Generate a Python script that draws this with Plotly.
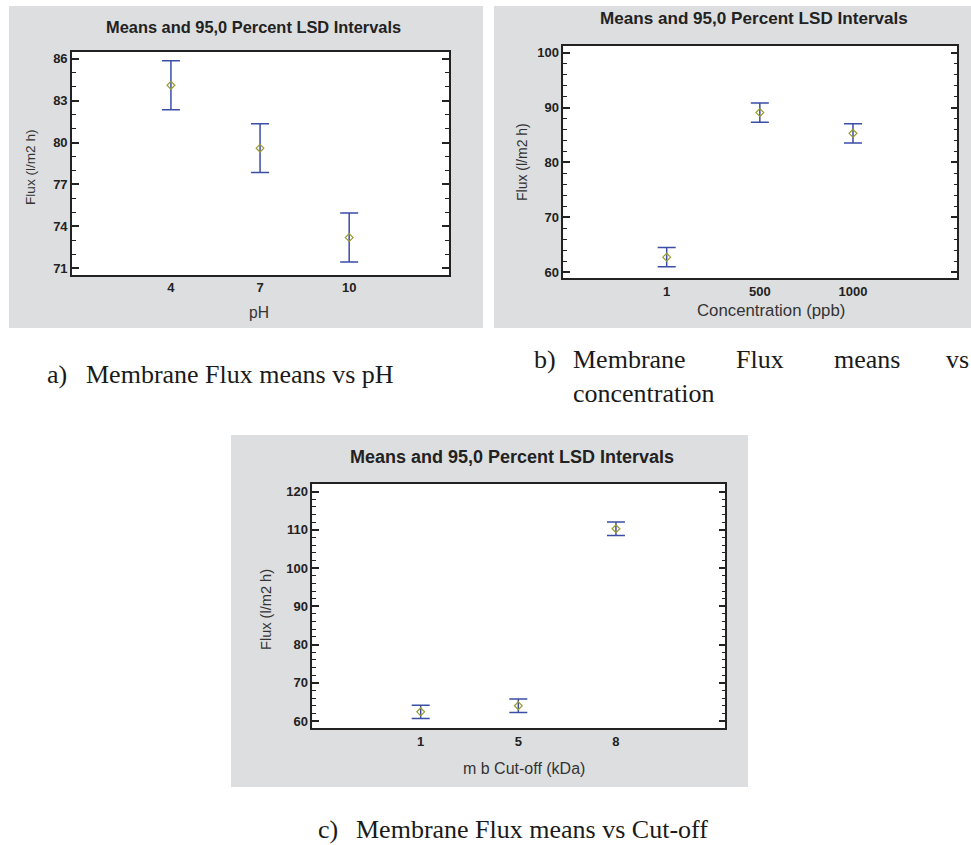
import plotly.graph_objects as go

# Group means and LSD half-widths (Flux, l/m2 h)
ph_levels = ["4", "7", "10"]
ph_means = [84.1, 79.6, 73.2]
ph_lsd = [1.75, 1.75, 1.75]

conc_levels = ["1", "500", "1000"]
conc_means = [62.7, 89.1, 85.3]
conc_lsd = [1.75, 1.75, 1.75]

cut_levels = ["1", "5", "8"]
cut_means = [62.4, 64.0, 110.3]
cut_lsd = [1.75, 1.75, 1.75]

W, H = 971, 845
SANS = "Liberation Sans, Arial, sans-serif"
SERIF = "Liberation Serif, Times New Roman, serif"
PANEL_BG = "#dddee0"
PLOT_BG = "#ffffff"
BAR_COLOR = "#3b4ea6"
PT_COLOR = "#9a9a2e"


def px(x):
    return x / W


def py(y):
    return 1 - y / H


panels = [
    dict(levels=ph_levels, means=ph_means, lsd=ph_lsd,
         box=(72, 449, 52, 275), bg=(9, 483, 6, 328),
         yr=[70.52, 86.48], tick0=71, dtick=3, mdtick=1,
         title_xy=(254, 27), tsize=16.4,
         ylab_xy=(30, 167), ysize=13.6,
         xlab="pH", xlab_xy=(259, 312), xsize=15.6),
    dict(levels=conc_levels, means=conc_means, lsd=conc_lsd,
         box=(563.3, 957.3, 45.7, 278.3), bg=(494, 971, 6, 328),
         yr=[58.85, 101.3], tick0=60, dtick=10, mdtick=2,
         title_xy=(753.5, 18.5), tsize=17.1,
         ylab_xy=(522, 162), ysize=14,
         xlab="Concentration (ppb)", xlab_xy=(770.5, 310), xsize=16.8),
    dict(levels=cut_levels, means=cut_means, lsd=cut_lsd,
         box=(312.3, 725.3, 484, 728.3), bg=(231, 748, 435, 787),
         yr=[58.1, 122.0], tick0=60, dtick=10, mdtick=2,
         title_xy=(511.5, 457), tsize=18,
         ylab_xy=(266, 610), ysize=14.6,
         xlab="m b Cut-off (kDa)", xlab_xy=(524, 768), xsize=16),
]

fig = go.Figure()
annotations = []
shapes = []


def card_strip(l, r, t, b, color=PANEL_BG):
    return dict(type="rect", xref="paper", yref="paper",
                x0=px(l), x1=px(r), y0=py(b), y1=py(t),
                fillcolor=color, line=dict(width=0), layer="below")


for i, p in enumerate(panels, start=1):
    xa = "x" if i == 1 else f"x{i}"
    ya = "y" if i == 1 else f"y{i}"
    x0, x1, y0, y1 = p["box"]
    fig.add_trace(go.Scatter(
        x=[1, 2, 3], y=p["means"], mode="markers",
        marker=dict(symbol="diamond-open", size=6, color=PT_COLOR,
                    line=dict(width=1.2, color=PT_COLOR)),
        error_y=dict(type="data", array=p["lsd"], symmetric=True,
                     color=BAR_COLOR, thickness=1.5, width=9),
        xaxis=xa, yaxis=ya, showlegend=False, hoverinfo="skip"))

    xkey = "xaxis" if i == 1 else f"xaxis{i}"
    ykey = "yaxis" if i == 1 else f"yaxis{i}"
    fig.layout[xkey] = dict(
        domain=[px(x0), px(x1)], range=[-0.11, 4.12], anchor=ya,
        tickvals=[1, 2, 3], ticktext=p["levels"], ticks="",
        showgrid=False, zeroline=False, showline=True, mirror=True,
        linecolor="#222", linewidth=1.6,
        tickfont=dict(family=SANS, size=13, color="#222", weight="bold"),
        fixedrange=True)
    fig.layout[ykey] = dict(
        domain=[py(y1), py(y0)], range=p["yr"], anchor=xa,
        tick0=p["tick0"], dtick=p["dtick"], ticks="inside", ticklen=7,
        tickwidth=1.5, tickcolor="#222",
        minor=dict(dtick=p["mdtick"], ticks="inside", ticklen=4,
                   tickwidth=1.2, tickcolor="#222", showgrid=False),
        showgrid=False, zeroline=False, showline=True, mirror="ticks",
        linecolor="#222", linewidth=1.6,
        tickfont=dict(family=SANS, size=13, color="#222", weight="bold"),
        fixedrange=True)

    # grey card around the chart, framing the white plot area
    bx0, bx1, by0, by1 = p["bg"]
    shapes += [
        card_strip(bx0, bx1, by0, y0 + 0.5),
        card_strip(bx0, bx1, y1 - 0.5, by1),
        card_strip(bx0, x0 + 0.5, y0 - 2, y1 + 2),
        card_strip(x1 - 0.5, bx1, y0 - 2, y1 + 2),
        card_strip(x0, x1, y0, y1, PLOT_BG),
    ]

    tx, ty = p["title_xy"]
    annotations.append(dict(
        text="<b>Means and 95,0 Percent LSD Intervals</b>", x=px(tx), y=py(ty),
        xref="paper", yref="paper", xanchor="center", yanchor="middle",
        showarrow=False, font=dict(family=SANS, size=p["tsize"], color="#222")))
    lx, ly = p["ylab_xy"]
    annotations.append(dict(
        text="Flux (l/m2 h)", x=px(lx), y=py(ly), textangle=-90,
        xref="paper", yref="paper", xanchor="center", yanchor="middle",
        showarrow=False, font=dict(family=SANS, size=p["ysize"], color="#333")))
    qx, qy = p["xlab_xy"]
    annotations.append(dict(
        text=p["xlab"], x=px(qx), y=py(qy),
        xref="paper", yref="paper", xanchor="center", yanchor="middle",
        showarrow=False, font=dict(family=SANS, size=p["xsize"], color="#333")))

# Figure captions under each panel
CAP = dict(family=SERIF, size=26, color="#1a1a1a")
captions = [
    ("a)", 46, 374), ("Membrane Flux means vs pH", 85, 374),
    ("b)", 533, 359), ("Membrane", 572, 359), ("Flux", 735, 359),
    ("means", 833, 359), ("vs", 945, 359),
    ("concentration", 572, 393),
    ("c)", 317, 829), ("Membrane Flux means vs Cut-off", 355, 829),
]
for text, cx, cy in captions:
    annotations.append(dict(
        text=text, x=px(cx), y=py(cy), xref="paper", yref="paper",
        xanchor="left", yanchor="middle", showarrow=False, font=CAP,
        borderpad=0))

fig.update_layout(
    template="none",
    width=W, height=H, margin=dict(l=0, r=0, t=0, b=0),
    paper_bgcolor="#ffffff", plot_bgcolor="#ffffff",
    shapes=shapes, annotations=annotations, showlegend=False)

fig.write_html("out.html")
